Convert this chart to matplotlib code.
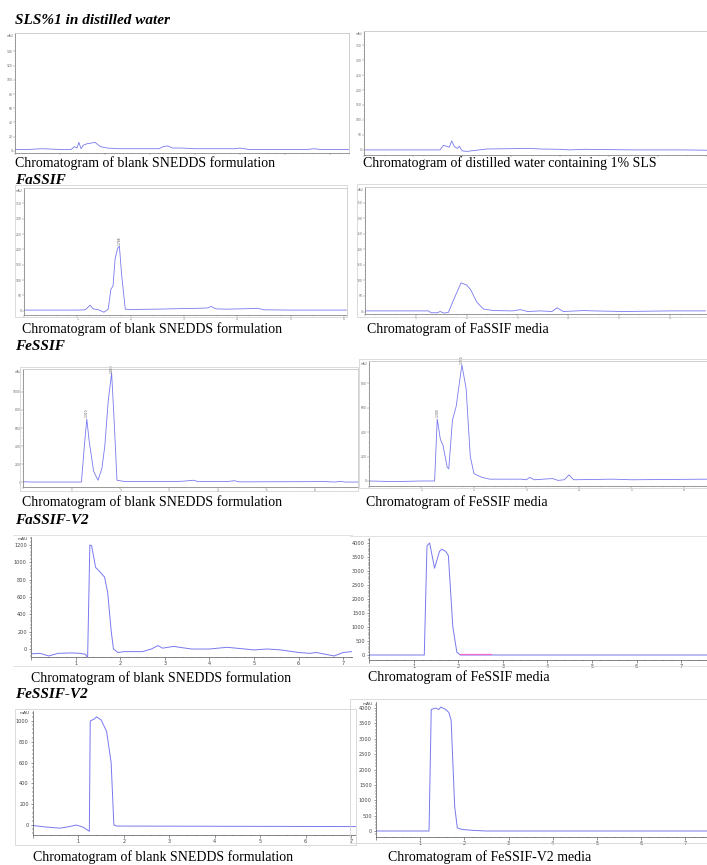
import matplotlib
matplotlib.use("Agg")
from matplotlib import pyplot as plt
from matplotlib.patches import Rectangle
from matplotlib.ticker import AutoMinorLocator, MultipleLocator

# ---- data (time in min, signal in mAU) ----
sls_blank_t = [0, 0.3, 0.6, 1.0, 1.25, 1.32, 1.38, 1.42, 1.47, 1.52, 1.6, 1.7, 1.78, 1.9, 2.05, 2.3, 2.8, 3.2, 3.3, 3.4, 3.5, 3.7, 4.0, 4.4, 4.9, 5.0, 5.2, 5.8, 6.5, 6.65, 6.8, 7.45]
sls_blank_y = [2, 2, 3, 2, 2, 6, 4, 12, 3, 8, 10, 11, 12, 6, 4, 3, 3, 3, 6, 7, 4, 4, 3, 3, 3, 4, 2, 2, 2, 3, 2, 2]

sls_water_t = [0, 1.0, 1.55, 1.62, 1.67, 1.74, 1.79, 1.84, 1.9, 1.95, 2.0, 2.1, 2.5, 3.0, 3.35, 3.6, 4.0, 4.2, 4.5, 5.0, 5.5, 6.5, 7.0]
sls_water_y = [0, 0, 0, 15, 13, 9, 30, 12, 5, 12, -3, -5, 3, 4, 5, 3, 2, 0, 2, 1, 0, 0, -1]

fassif_blank_t = [0, 1.0, 1.15, 1.24, 1.3, 1.4, 1.5, 1.58, 1.63, 1.67, 1.71, 1.76, 1.79, 1.83, 1.9, 2.0, 2.5, 3.0, 3.3, 3.45, 3.51, 3.6, 3.8, 4.3, 4.38, 4.5, 5.0, 6.05]
fassif_blank_y = [2, 2, 3, 18, 6, 3, -5, 5, 70, 80, 170, 205, 210, 120, 5, 4, 5, 7, 8, 9, 14, 6, 5, 7, 8, 3, 2, 2]

fassif_media_t = [0, 1.25, 1.3, 1.42, 1.48, 1.55, 1.64, 1.75, 1.89, 2.0, 2.08, 2.2, 2.33, 2.53, 2.9, 3.06, 3.2, 3.45, 3.68, 3.78, 3.9, 4.3, 4.5, 5.1, 6.0, 6.7]
fassif_media_y = [2, 2, -4, -4, 0, -5, -3, 40, 92, 85, 70, 30, 8, 3, 2, 6, 0, 2, 0, 12, 0, 3, 2, 0, 2, 2]

fessif_blank_t = [0, 0.2, 1.1, 1.2, 1.26, 1.31, 1.36, 1.45, 1.54, 1.62, 1.68, 1.75, 1.82, 1.87, 1.93, 2.1, 3.1, 3.3, 3.5, 3.6, 4.2, 4.33, 4.45, 6.2, 6.4, 6.54, 6.6, 6.9]
fessif_blank_y = [3, 0, 0, 0, 400, 700, 450, 120, 20, 150, 400, 900, 1210, 700, 20, 5, 5, 10, 20, 5, 5, 15, 2, 5, 0, 8, 0, 0]

fessif_media_t = [0, 0.5, 1.0, 1.25, 1.3, 1.36, 1.41, 1.49, 1.52, 1.59, 1.66, 1.77, 1.85, 1.93, 2.0, 2.15, 2.3, 2.9, 3.0, 3.06, 3.15, 3.5, 3.6, 3.72, 3.81, 3.9, 4.65, 5.0, 6.44]
fessif_media_y = [0, -5, 0, 0, 507, 341, 292, 112, 100, 499, 608, 950, 758, 200, 60, 30, 15, 15, 10, 30, 10, 20, 5, 10, 50, 10, 15, 10, 15]

fassifv2_blank_t = [0, 0.2, 0.4, 0.6, 0.9, 1.1, 1.22, 1.27, 1.32, 1.36, 1.45, 1.53, 1.65, 1.72, 1.8, 1.85, 1.95, 2.1, 2.5, 2.7, 2.85, 2.95, 3.2, 3.6, 4.0, 4.4, 5.0, 5.3, 5.6, 6.0, 6.25, 6.4, 6.8, 7.0, 7.2]
fassifv2_blank_y = [-55, -50, -80, -50, -45, -50, -60, -100, 1200, 1190, 940, 900, 830, 650, 200, 0, -40, -30, -30, 0, 40, 10, 30, 0, 0, 20, -10, 0, -10, -40, -50, -40, -80, -40, -30]

fassifv2_media_t = [0, 1.0, 1.24, 1.3, 1.36, 1.47, 1.58, 1.63, 1.72, 1.78, 1.88, 1.97, 2.05, 7.58]
fassifv2_media_y = [0, 0, 0, 3900, 4000, 3100, 3700, 3780, 3700, 3550, 1000, 100, 0, 0]
fassifv2_media_pink_t = [2.05, 2.73]
fassifv2_media_pink_y = [20, 20]

fessifv2_blank_t = [0, 0.3, 0.6, 0.8, 0.95, 1.1, 1.24, 1.26, 1.35, 1.4, 1.5, 1.62, 1.72, 1.78, 1.85, 7.11]
fessifv2_blank_y = [-5, -20, -30, -15, 0, -20, -60, 1000, 1020, 1040, 1010, 900, 600, 0, -10, -15]

fessifv2_media_t = [0, 1.2, 1.25, 1.35, 1.42, 1.47, 1.58, 1.65, 1.7, 1.78, 1.84, 1.95, 2.2, 2.5, 7.49]
fessifv2_media_y = [0, 0, 3950, 4000, 3950, 4030, 3950, 3850, 3600, 800, 100, 50, 20, 0, 0]

section_titles = ["SLS%1 in distilled water", "FaSSIF", "FeSSIF", "FaSSIF-V2", "FeSSIF-V2"]
captions = [
    "Chromatogram of blank SNEDDS formulation",
    "Chromatogram of distilled water containing 1% SLS",
    "Chromatogram of blank SNEDDS formulation",
    "Chromatogram of FaSSIF media",
    "Chromatogram of blank SNEDDS formulation",
    "Chromatogram of FeSSIF media",
    "Chromatogram of blank SNEDDS formulation",
    "Chromatogram of FeSSIF media",
    "Chromatogram of blank SNEDDS formulation",
    "Chromatogram of FeSSIF-V2 media",
]

W, H = 707, 865
LINE = "#7878f0"
SERIF = ["Liberation Serif", "DejaVu Serif"]

fig = plt.figure(figsize=(W / 100, H / 100), dpi=100)


def px_axes(l, t, r, b):
    return fig.add_axes([l / W, 1 - b / H, (r - l) / W, (b - t) / H])


def frame(l, t, r, b, color="#d4d4d4"):
    fig.add_artist(Rectangle((l / W, 1 - b / H), (r - l) / W, (b - t) / H,
                             transform=fig.transFigure, fill=False, ec=color, lw=0.6))


def hline(x0, x1, y, color="#dddddd"):
    fig.add_artist(plt.Line2D([x0 / W, x1 / W], [1 - y / H] * 2,
                              transform=fig.transFigure, color=color, lw=0.6))


def fig_text(x, y, s, **kw):
    fig.text(x / W, 1 - y / H, s, va="center", ha="left", **kw)


def small_panel(box, xlim, ylim, ystep, t, y, peaks=(), xlabels=True):
    # the upper screenshots: tiny, hardly readable axis labels
    ax = px_axes(*box)
    ax.plot(t, y, color=LINE, lw=0.6)
    ax.set_xlim(*xlim)
    ax.set_ylim(*ylim)
    ax.xaxis.set_major_locator(MultipleLocator(1))
    ax.yaxis.set_major_locator(MultipleLocator(ystep))
    ax.xaxis.set_minor_locator(AutoMinorLocator(5))
    ax.yaxis.set_minor_locator(AutoMinorLocator(5))
    ax.tick_params(labelsize=2.2, length=1.2, width=0.3, pad=0.5, colors="#666666")
    ax.tick_params(which="minor", length=0.6, width=0.2, colors="#888888")
    yt = [v for v in ax.get_yticks() if ylim[0] <= v <= ylim[1] - ystep * 0.6]
    ax.set_yticks(yt)
    ax.set_yticklabels([f"{v:g}" for v in yt])
    if xlabels:
        ax.set_xticklabels([f"{v:g}" if v > 0 else "" for v in ax.get_xticks()])
    else:
        ax.tick_params(axis="x", labelbottom=False)
    for sp in ax.spines.values():
        sp.set_color("#c8c8c8")
        sp.set_linewidth(0.6)
    ax.spines["left"].set_color("#888888")
    ax.spines["bottom"].set_color("#888888")
    ax.text(-0.005, 0.99, "mAU", transform=ax.transAxes, fontsize=2, ha="right", va="top", color="#666666")
    for pt, py in peaks:
        ax.text(pt, py, f"{pt:.3f}", rotation=90, fontsize=2.2, ha="center", va="bottom", color="#555555")
    return ax


def big_panel(box, xlim, ylim, ystep, t, y, mau=True):
    # the lower screenshots: readable axis labels, open frame
    ax = px_axes(*box)
    ax.plot(t, y, color=LINE, lw=0.7)
    ax.set_xlim(*xlim)
    ax.set_ylim(*ylim)
    ax.xaxis.set_major_locator(MultipleLocator(1))
    ax.yaxis.set_major_locator(MultipleLocator(ystep))
    ax.xaxis.set_minor_locator(AutoMinorLocator(5))
    ax.yaxis.set_minor_locator(AutoMinorLocator(5))
    ax.tick_params(labelsize=3.6, length=1.8, width=0.4, pad=1.2, colors="#444444")
    ax.tick_params(which="minor", length=1.0, width=0.3)
    ax.set_xticklabels([f"{v:g}" if v > 0 else "" for v in ax.get_xticks()])
    ax.spines["top"].set_visible(False)
    ax.spines["right"].set_visible(False)
    ax.spines["left"].set_color("#555555")
    ax.spines["bottom"].set_color("#555555")
    ax.spines["left"].set_linewidth(0.5)
    ax.spines["bottom"].set_linewidth(0.5)
    if mau:
        ax.text(-0.01, 1.0, "mAU", transform=ax.transAxes, fontsize=3.2, ha="right", va="top", color="#444444")
    return ax


# ---- SLS 1% in distilled water ----
small_panel((15, 33, 349, 153), (0, 7.43), (-3, 166), 20, sls_blank_t, sls_blank_y, xlabels=False)
small_panel((364, 31, 707, 155), (0, 7.0), (-17, 397), 50, sls_water_t, sls_water_y, xlabels=False)

# ---- FaSSIF ----
frame(15, 185, 347, 317)
small_panel((24, 188, 347, 315), (0, 6.06), (-14, 400), 50, fassif_blank_t, fassif_blank_y,
            peaks=[(1.788, 215)])
frame(357, 184, 707, 317)
small_panel((365, 187, 707, 314), (0, 6.73), (-8, 400), 50, fassif_media_t, fassif_media_y)

# ---- FeSSIF ----
frame(20, 367, 358, 491)
small_panel((23, 369, 358, 487), (0, 6.88), (-55, 1255), 200, fessif_blank_t, fessif_blank_y,
            peaks=[(1.310, 720), (1.820, 1215)])
frame(359, 359, 707, 488)
small_panel((369, 361, 707, 486), (0, 6.44), (-41, 982), 200, fessif_media_t, fessif_media_y,
            peaks=[(1.300, 520), (1.770, 955)])

# ---- FaSSIF-V2 ----
hline(13, 352, 535)
hline(13, 352, 666)
big_panel((31, 537, 352, 657), (0, 7.2), (-92, 1292), 200, fassifv2_blank_t, fassifv2_blank_y)
hline(350, 707, 536)
hline(350, 707, 666)
ax8 = big_panel((369, 538, 707, 660), (0, 7.58), (-179, 4179), 500, fassifv2_media_t, fassifv2_media_y, mau=False)
ax8.plot(fassifv2_media_pink_t, fassifv2_media_pink_y, color="#f06ad0", lw=0.9)

# ---- FeSSIF-V2 ----
frame(15, 709, 356, 845)
big_panel((33, 711, 356, 835), (0, 7.11), (-96, 1096), 200, fessifv2_blank_t, fessifv2_blank_y)
frame(350, 699, 707, 843)
big_panel((376, 702, 707, 837), (0, 7.49), (-195, 4195), 500, fessifv2_media_t, fessifv2_media_y)

# ---- section titles and captions ----
for s, (x, y) in zip(section_titles, [(15, 20), (15, 180), (15, 347), (15, 520), (15, 694)]):
    fig_text(x, y, s, fontsize=11, fontweight="bold", fontstyle="italic", family=SERIF)

cap_pos = [(15, 163), (363, 163), (22, 329), (367, 329), (22, 502),
           (366, 502), (31, 678), (368, 677), (33, 857), (388, 857)]
for s, (x, y) in zip(captions, cap_pos):
    fig_text(x, y, s, fontsize=10, family=SERIF)

fig.savefig("out.png", dpi=100)
